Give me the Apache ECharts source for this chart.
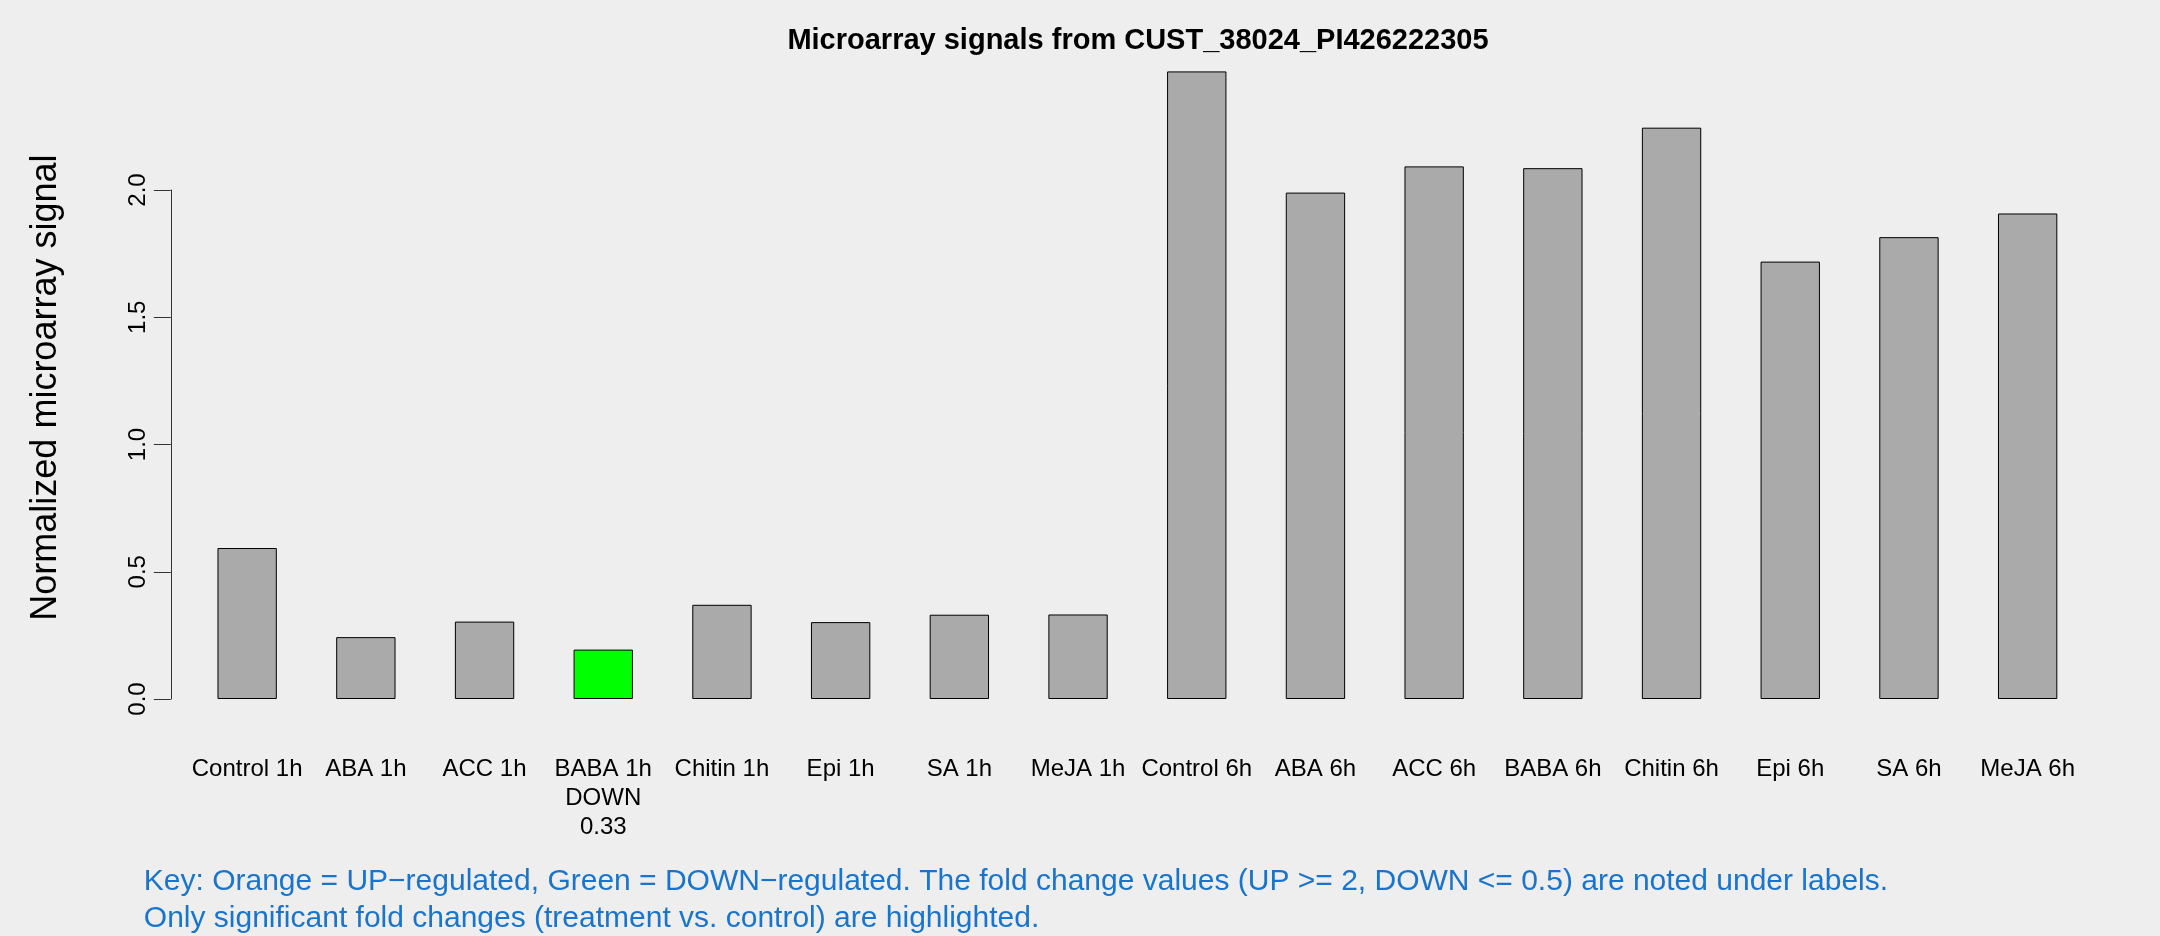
<!DOCTYPE html>
<html>
<head>
<meta charset="utf-8">
<script src="https://cdn.jsdelivr.net/npm/echarts@6/dist/echarts.min.js"></script>
<style>
html,body{margin:0;padding:0;background:#EEEEEE;}
#chart{width:2160px;height:936px;}
</style>
</head>
<body>
<div id="chart"></div>
<script>
// ---- data ----
var categories = ["Control 1h","ABA 1h","ACC 1h","BABA 1h","Chitin 1h","Epi 1h","SA 1h","MeJA 1h",
                  "Control 6h","ABA 6h","ACC 6h","BABA 6h","Chitin 6h","Epi 6h","SA 6h","MeJA 6h"];
var signals = [0.593, 0.243, 0.304, 0.194, 0.370, 0.302, 0.331, 0.332,
               2.465, 1.989, 2.092, 2.085, 2.244, 1.718, 1.814, 1.907];
var regulation = ["","","","DOWN","","","","","","","","","","","",""];
var foldChange = ["","","","0.33","","","","","","","","","","","",""];
var yTicks = [0, 0.5, 1.0, 1.5, 2.0];
var titleText = "Microarray signals from CUST_38024_PI426222305";
var yAxisTitle = "Normalized microarray signal";
var keyLines = ["Key: Orange = UP\u2212regulated, Green = DOWN\u2212regulated. The fold change values (UP >= 2, DOWN <= 0.5) are noted under labels.",
                "Only significant fold changes (treatment vs. control) are highlighted."];

var colorFor = { "": "#AAAAAA", "DOWN": "#00FF00", "UP": "#FFA500" };
var FONT = "Liberation Sans, Arial, Helvetica, sans-serif";

var chart = echarts.init(document.getElementById('chart'), null, {renderer: 'canvas'});

var barData = signals.map(function (v, i) {
  return { value: v, itemStyle: { color: colorFor[regulation[i]], borderColor: '#000', borderWidth: 1 } };
});

var option = {
  backgroundColor: '#EEEEEE',
  animation: false,
  textStyle: { fontFamily: FONT },
  title: {
    text: titleText,
    left: 1133,
    top: 21,
    textAlign: 'center',
    textStyle: { fontFamily: FONT, fontWeight: 'bold', fontSize: 29, color: '#000' }
  },
  grid: [
    { left: 187.8, right: 73, top: 62.5, bottom: 237, containLabel: false },
    { left: 170.8, width: 10, top: 190, bottom: 237, containLabel: false }
  ],
  xAxis: [
    {
      type: 'category', gridIndex: 0, data: categories,
      axisLine: { show: false }, axisTick: { show: false },
      axisLabel: {
        interval: 0, fontSize: 24, color: '#000', fontFamily: FONT, lineHeight: 29, margin: 56,
        formatter: function (val, idx) {
          var s = val;
          if (regulation[idx]) s += '\n' + regulation[idx];
          if (foldChange[idx]) s += '\n' + foldChange[idx];
          return s;
        }
      }
    },
    { type: 'value', gridIndex: 1, show: false, min: 0, max: 1 }
  ],
  yAxis: [
    { type: 'value', gridIndex: 0, min: 0, max: 2.5, show: false, splitLine: { show: false } },
    {
      type: 'value', gridIndex: 1, min: yTicks[0], max: yTicks[yTicks.length - 1], interval: 0.5,
      axisLine: { show: true, lineStyle: { color: '#333', width: 1 } },
      axisTick: { show: true, length: 17, inside: false, lineStyle: { color: '#333', width: 1 } },
      splitLine: { show: false },
      axisLabel: {
        rotate: 90, fontSize: 24, color: '#000', fontFamily: FONT, margin: 20,
        formatter: function (v) { return v.toFixed(1); }
      }
    }
  ],
  series: [
    {
      type: 'bar', xAxisIndex: 0, yAxisIndex: 0, barWidth: '50%',
      data: barData
    }
  ],
  graphic: [
    {
      type: 'text', x: 46, y: 387.6, rotation: Math.PI / 2,
      style: { text: yAxisTitle, fontSize: 36, fontFamily: FONT, fill: '#000', textAlign: 'center', textVerticalAlign: 'middle' }
    },
    {
      type: 'text', x: 143.8, y: 882,
      style: { text: keyLines[0], fontSize: 30, fontFamily: FONT, fill: '#1874CD', textAlign: 'left', textVerticalAlign: 'middle' }
    },
    {
      type: 'text', x: 143.8, y: 919,
      style: { text: keyLines[1], fontSize: 30, fontFamily: FONT, fill: '#1874CD', textAlign: 'left', textVerticalAlign: 'middle' }
    }
  ]
};
chart.setOption(option);
</script>
</body>
</html>
